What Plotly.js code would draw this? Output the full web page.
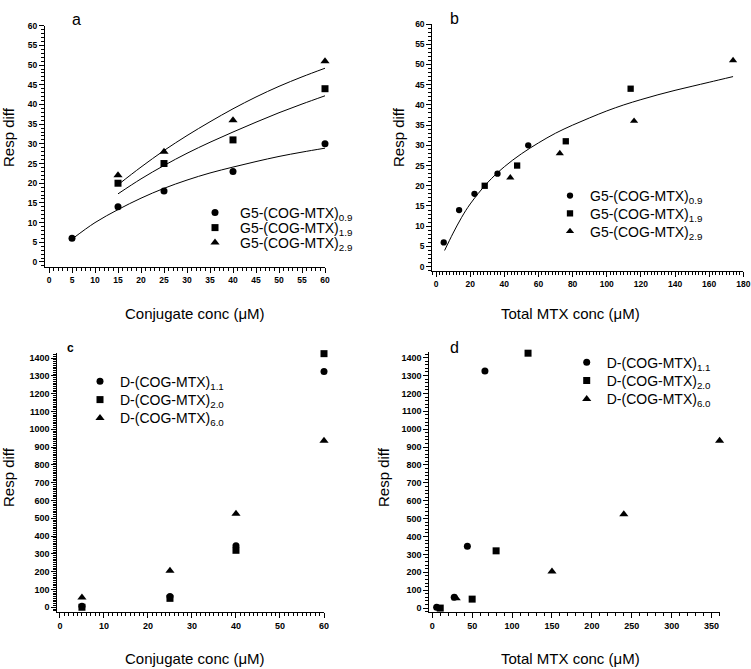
<!DOCTYPE html>
<html>
<head>
<meta charset="utf-8">
<script src="https://cdn.plot.ly/plotly-3.0.1.min.js"></script>
<style>html,body{margin:0;padding:0;background:#fff;}#chart{width:751px;height:669px;}</style>
</head>
<body>
<div id="chart"></div>
<script>
// ---- Panel a: conjugate conc vs resp diff (G5 conjugates)
const aConj09 = [5, 15, 25, 40, 60];
const aResp09 = [6, 14, 18, 23, 30];
const aConj19 = [15, 25, 40, 60];
const aResp19 = [20, 25, 31, 44];
const aConj29 = [15, 25, 40, 60];
const aResp29 = [22, 28, 36, 51];
// fitted curves
const fitA09X = [5, 10, 15, 20, 25, 30, 35, 40, 45, 50, 55, 60];
const fitA09Y = [5.8, 10, 13.3, 16.2, 18.7, 20.8, 22.6, 24.1, 25.5, 26.8, 27.9, 28.9];
const fitA19X = [15, 20, 25, 30, 35, 40, 45, 50, 55, 60];
const fitA19Y = [17.3, 21.1, 24.5, 27.6, 30.4, 33, 35.5, 37.9, 40.1, 42.2];
const fitA29X = [15, 20, 25, 30, 35, 40, 45, 50, 55, 60];
const fitA29Y = [19.6, 24.1, 28.3, 32.1, 35.6, 38.9, 41.9, 44.6, 47.0, 49.2];

// ---- Panel b: total MTX conc
const bTot09 = [4.5, 13.5, 22.5, 36, 54];
const bResp09 = [6, 14, 18, 23, 30];
const bTot19 = [28.5, 47.5, 76, 114];
const bResp19 = [20, 25, 31, 44];
const bTot29 = [43.5, 72.5, 116, 174];
const bResp29 = [22, 28, 36, 51];
const fitBX = [5, 10, 15, 20, 30, 40, 50, 60, 70, 80, 90, 100, 110, 120, 130, 140, 150, 160, 174];
const fitBY = [4, 8.3, 12.2, 15.5, 20.7, 24.7, 27.9, 30.6, 33.0, 35.0, 36.8, 38.5, 40.0, 41.3, 42.5, 43.6, 44.6, 45.6, 47.0];

// ---- Panel c: D conjugates vs conjugate conc
const cConj = [5, 25, 40, 60];
const cResp11 = [5, 60, 345, 1325];
const cResp20 = [0, 50, 320, 1425];
const cResp60 = [55, 205, 525, 935];

// ---- Panel d: D conjugates vs total MTX conc
const dTot11 = [5.5, 27.5, 44, 66];
const dTot20 = [10, 50, 80, 120];
const dTot60 = [30, 150, 240, 360];

const gNames = ['G5-(COG-MTX)<sub>0.9</sub>', 'G5-(COG-MTX)<sub>1.9</sub>', 'G5-(COG-MTX)<sub>2.9</sub>'];
const dNames = ['D-(COG-MTX)<sub>1.1</sub>', 'D-(COG-MTX)<sub>2.0</sub>', 'D-(COG-MTX)<sub>6.0</sub>'];
const symbols = ['circle', 'square', 'triangle-up'];
const sizes = [7, 7, 8];

const W = 751, H = 669;
const px = v => v / W;
const py = v => 1 - v / H;

function pts(x, y, i, name, xa, ya, leg, scale) {
  return {x: x, y: y, type: 'scatter', mode: 'markers', name: name,
    xaxis: xa, yaxis: ya, legend: leg, cliponaxis: false,
    marker: {symbol: symbols[i], size: sizes[i] * (scale || 1), color: '#000'}};
}
function fit(x, y, xa, ya) {
  return {x: x, y: y, type: 'scatter', mode: 'lines', showlegend: false,
    xaxis: xa, yaxis: ya, cliponaxis: false,
    line: {color: '#000', width: 1, shape: 'spline'}, hoverinfo: 'skip'};
}

const data = [
  fit(fitA09X, fitA09Y, 'x', 'y'),
  fit(fitA19X, fitA19Y, 'x', 'y'),
  fit(fitA29X, fitA29Y, 'x', 'y'),
  pts(aConj09, aResp09, 0, gNames[0], 'x', 'y', 'legend'),
  pts(aConj19, aResp19, 1, gNames[1], 'x', 'y', 'legend2'),
  pts(aConj29, aResp29, 2, gNames[2], 'x', 'y', 'legend3'),
  fit(fitBX, fitBY, 'x2', 'y2'),
  pts(bTot09, bResp09, 0, gNames[0], 'x2', 'y2', 'legend4', 0.9),
  pts(bTot19, bResp19, 1, gNames[1], 'x2', 'y2', 'legend5', 0.9),
  pts(bTot29, bResp29, 2, gNames[2], 'x2', 'y2', 'legend6', 0.9),
  pts(cConj, cResp11, 0, dNames[0], 'x3', 'y3', 'legend7'),
  pts(cConj, cResp20, 1, dNames[1], 'x3', 'y3', 'legend8'),
  pts(cConj, cResp60, 2, dNames[2], 'x3', 'y3', 'legend9'),
  pts(dTot11, cResp11, 0, dNames[0], 'x4', 'y4', 'legend10'),
  pts(dTot20, cResp20, 1, dNames[1], 'x4', 'y4', 'legend11'),
  pts(dTot60, cResp60, 2, dNames[2], 'x4', 'y4', 'legend12')
];

const FONT = 'Liberation Sans, Arial, sans-serif';
function axis(domain, range, dtick, minorDtick, anchor, tickSize) {
  return {
    domain: domain, range: range, anchor: anchor,
    showline: true, linecolor: '#000', linewidth: 1,
    showgrid: false, zeroline: false,
    ticks: 'outside', ticklen: 5, tickwidth: 1, tickcolor: '#000',
    tick0: 0, dtick: dtick,
    minor: {ticks: 'outside', ticklen: 3, tickwidth: 1, tickcolor: '#000', dtick: minorDtick, tick0: 0, showgrid: false},
    tickfont: {family: FONT, size: tickSize, color: '#000', weight: 'bold'},
    automargin: false, fixedrange: true
  };
}

function legendCfg(symX, rowY, iw) {
  const w = iw || 30;
  return {x: px(symX - 5 - w / 2), y: py(rowY - 15), xanchor: 'left', yanchor: 'top',
    bgcolor: 'rgba(0,0,0,0)', borderwidth: 0,
    font: {family: FONT, size: 14, color: '#000'}, itemwidth: w, tracegroupgap: 0};
}

function title(text, xpx, ypx, vertical) {
  return {text: text, x: px(xpx), y: py(ypx), xref: 'paper', yref: 'paper',
    xanchor: 'center', yanchor: 'middle', showarrow: false,
    textangle: vertical ? -90 : 0,
    font: {family: FONT, size: 15, color: '#000'}};
}

const layout = {
  width: W, height: H,
  margin: {l: 0, r: 0, t: 0, b: 0},
  paper_bgcolor: '#fff', plot_bgcolor: '#fff',
  font: {family: FONT, color: '#000'},
  xaxis: axis([px(45), px(325)], [-0.87, 60], 5, 1, 'y', 8.5),
  yaxis: axis([py(266.7), py(25.7)], [-1.2, 60], 5, 1, 'x', 8.5),
  xaxis2: axis([px(432.3), px(743.3)], [-2.2, 180], 20, 2, 'y2', 8.5),
  yaxis2: axis([py(270.7), py(24)], [-1, 60], 5, 1, 'x2', 8.5),
  xaxis3: axis([px(57.3), px(324)], [-0.6, 60], 10, 1, 'y3', 9),
  yaxis3: axis([py(611.7), py(353.3)], [-25, 1427], 100, 10, 'x3', 9),
  xaxis4: axis([px(429.3), px(720)], [-3.7, 360.5], 50, 10, 'y4', 9),
  yaxis4: axis([py(612), py(352.3)], [-22, 1430], 100, 20, 'x4', 9),
  legend: legendCfg(215, 212, 40),
  legend2: legendCfg(215, 227, 40),
  legend3: legendCfg(215, 242, 40),
  legend4: legendCfg(570, 195),
  legend5: legendCfg(570, 212.7),
  legend6: legendCfg(570, 230.7),
  legend7: legendCfg(100, 380.7),
  legend8: legendCfg(100, 399),
  legend9: legendCfg(100, 417.3),
  legend10: legendCfg(586.7, 361.7),
  legend11: legendCfg(586.7, 380),
  legend12: legendCfg(586.7, 398.3),
  showlegend: true,
  annotations: [
    {text: 'a', x: px(70), y: py(9), xref: 'paper', yref: 'paper', showarrow: false, font: {family: FONT, size: 16, color: '#000'}},
    {text: 'b', x: px(454), y: py(8), xref: 'paper', yref: 'paper', showarrow: false, font: {family: FONT, size: 16, color: '#000'}},
    {text: 'c', x: px(65), y: py(348), xref: 'paper', yref: 'paper', showarrow: false, font: {family: FONT, size: 12, color: '#000', weight: 'bold'}},
    {text: 'd', x: px(454), y: py(347), xref: 'paper', yref: 'paper', showarrow: false, font: {family: FONT, size: 16, color: '#000'}},
    title('Conjugate conc (μM)', 195, 313, false),
    title('Total MTX conc (μM)', 570, 313, false),
    title('Conjugate conc (μM)', 195, 658, false),
    title('Total MTX conc (μM)', 570, 658, false),
    title('Resp diff', 9, 137, true),
    title('Resp diff', 399, 137, true),
    title('Resp diff', 9, 477, true),
    title('Resp diff', 384, 477, true)
  ]
};

Plotly.newPlot('chart', data, layout, {displayModeBar: false, staticPlot: true});
</script>
</body>
</html>
